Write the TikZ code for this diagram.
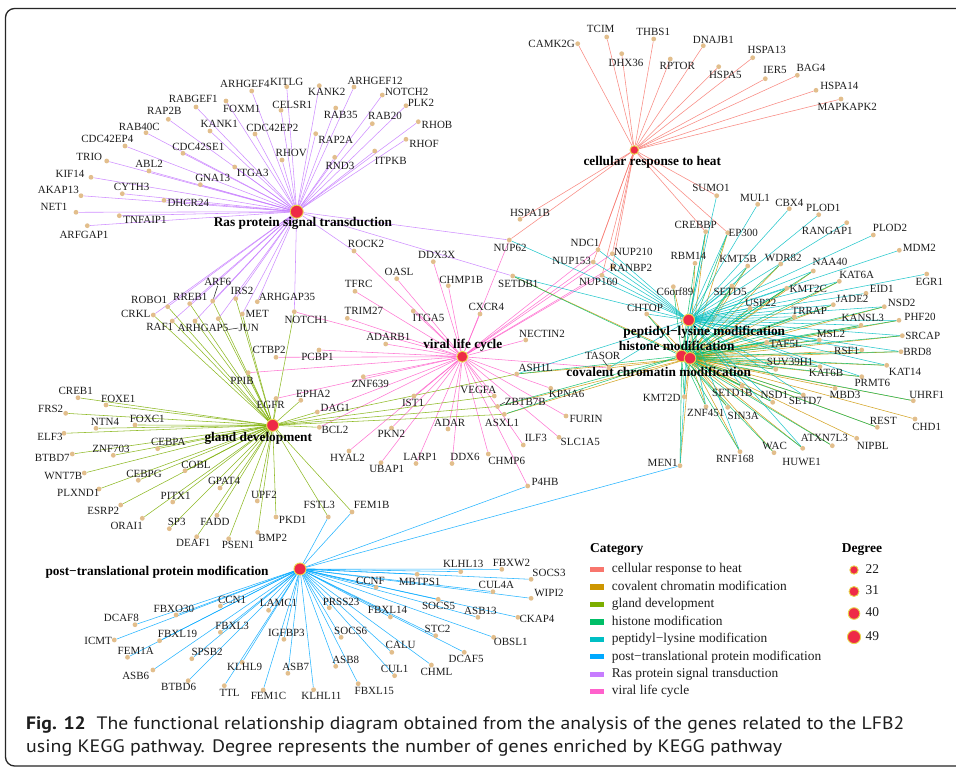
\documentclass[tikz,border=0pt]{standalone}
\usepackage{fontspec}
\setmainfont{Liberation Serif}
\newfontfamily\capfont{PT Sans}
\usepackage{graphicx}
\definecolor{cheat}{HTML}{F8766D}
\definecolor{ccov}{HTML}{CD9600}
\definecolor{cgland}{HTML}{7CAE00}
\definecolor{chis}{HTML}{00BE67}
\definecolor{cpep}{HTML}{00BFC4}
\definecolor{cptm}{HTML}{00A9FF}
\definecolor{cras}{HTML}{C77CFF}
\definecolor{cvir}{HTML}{FF61CC}
\definecolor{hubred}{HTML}{EE2A47}
\definecolor{hubrim}{HTML}{E8D44A}
\definecolor{genedot}{HTML}{E2BE8C}
\definecolor{txt}{HTML}{1E1E1E}
\pgfdeclarelayer{bg}
\pgfdeclarelayer{edges}
\pgfsetlayers{bg,edges,main}
\newcommand\gene[5]{\node[gdot] (#1) at (#2,#3) {};\node[glab] (#1-l) at (#4,#5) {#1};}
\tikzset{
  gdot/.style={circle, fill=genedot, inner sep=0pt, minimum size=4.8pt},
  glab/.style={anchor=center, inner sep=0pt, text=txt, font=\fontsize{11}{12}\selectfont, text height=7.3pt, text depth=0pt},
  hub/.style={circle, fill=hubred, draw=hubrim, line width=0.9pt, inner sep=0pt},
  hlab/.style={anchor=center, inner sep=0pt, text=black, font=\bfseries\fontsize{13.3}{15}\selectfont, text height=8.8pt, text depth=0pt},
  ed/.style={line width=0.55pt, opacity=0.85},
  eheat/.style={ed, draw=cheat}, ecov/.style={ed, draw=ccov}, egland/.style={ed, draw=cgland},
  ehis/.style={ed, draw=chis}, epep/.style={ed, draw=cpep}, eptm/.style={ed, draw=cptm},
  eras/.style={ed, draw=cras}, evir/.style={ed, draw=cvir},
  leader/.style={line width=0.5pt, draw=txt},
  legtxt/.style={anchor=west, inner sep=0pt, text=txt, font=\fontsize{13.4}{15}\selectfont, text height=6.5pt, text depth=0pt},
  leghead/.style={anchor=west, inner sep=0pt, text=black, font=\bfseries\fontsize{13.5}{15}\selectfont, text height=6.5pt, text depth=0pt},
  swatch/.style={inner sep=0pt, minimum width=14pt, minimum height=5.4pt},
}
\begin{document}
\begin{tikzpicture}[x=1pt,y=-1pt]
\useasboundingbox (0,0) rectangle (956,770);
\begin{pgfonlayer}{bg}
\fill[white] (0,0) rectangle (956,770);
\end{pgfonlayer}
\begin{scope}
\clip (0,0) rectangle (956,770);
\draw[line width=1.3pt, draw=black!85, rounded corners=9pt] (5.5,8.5) rectangle (1000,766);
\end{scope}

% ---------- Ras cluster genes
\gene{ARHGEF4}{251.7}{91}{245}{84}
\gene{KITLG}{286.7}{86.7}{286.7}{81.7}
\gene{KANK2}{319.3}{85.7}{326.7}{91.7}
\gene{ARHGEF12}{354}{87}{375}{81}
\gene{NOTCH2}{382.3}{95}{406.7}{92.3}
\gene{PLK2}{406}{105.7}{421}{103}
\gene{RHOB}{418.3}{121.7}{437}{125}
\gene{RHOF}{406}{139.3}{424}{144}
\gene{FOXM1}{226}{101}{241.7}{109.3}
\gene{RABGEF1}{196}{107}{193.3}{99}
\gene{RAP2B}{168.3}{119.3}{164.3}{110.7}
\gene{RAB40C}{146}{132.7}{139.3}{126.7}
\gene{CDC42EP4}{125}{146}{107.3}{139}
\gene{TRIO}{106.7}{161}{89.3}{157.3}
\gene{KIF14}{91}{177.3}{70}{174}
\gene{AKAP13}{81}{195.7}{58.3}{190}
\gene{NET1}{76}{212.3}{54}{207}
\gene{ARFGAP1}{87.3}{225.7}{84}{235}
\gene{KANK1}{210}{131}{219.3}{124.3}
\gene{CDC42SE1}{183}{153.3}{198.3}{147.3}
\gene{ABL2}{149}{171}{149}{164.3}
\gene{CYTH3}{122.3}{193.7}{131.7}{186.7}
\gene{TNFAIP1}{119.3}{215.7}{145}{220.3}
\gene{DHCR24}{164}{200.3}{188.3}{203.3}
\gene{GNA13}{200.3}{184.7}{212.7}{178}
\gene{ITGA3}{234.7}{167}{252.7}{172.7}
\gene{CDC42EP2}{255}{134}{272.3}{128}
\gene{CELSR1}{281}{110.3}{292.3}{105}
\gene{RHOV}{282}{160}{291.3}{153.3}
\gene{RAB35}{335.7}{108}{340.7}{115}
\gene{RAP2A}{315.7}{133.7}{335.7}{140}
\gene{RND3}{334.7}{157.3}{340}{166}
\gene{RAB20}{372.3}{123.7}{385}{116}
\gene{ITPKB}{374.7}{151}{390.7}{161}

% ---------- heat cluster genes
\gene{CAMK2G}{577.7}{43.7}{551.7}{44.3}
\gene{TCIM}{606.7}{37}{600.7}{28.7}
\gene{THBS1}{653.7}{39}{653.3}{32.3}
\gene{DHX36}{621.7}{53.7}{626}{62.7}
\gene{RPTOR}{670.3}{59}{677.3}{65.7}
\gene{DNAJB1}{703.3}{45.7}{713.3}{40}
\gene{HSPA5}{718.7}{66.7}{725.3}{75.3}
\gene{HSPA13}{752.7}{57.7}{766.7}{50.3}
\gene{IER5}{765.3}{78.7}{775}{70}
\gene{BAG4}{797.3}{75.3}{811}{68.3}
\gene{HSPA14}{816}{90.3}{839.3}{85.7}
\gene{MAPKAPK2}{841}{99}{847.3}{107.3}
\gene{HSPA1B}{520}{219.3}{530}{213.3}
\gene{NUP62}{509.3}{240}{510}{248.3}

% ---------- right (chromatin) cluster genes
\gene{SUMO1}{716.7}{195.7}{711}{187.7}
\gene{MUL1}{757.7}{204.3}{755}{198.3}
\gene{CBX4}{789.3}{208.7}{789.3}{202.7}
\gene{PLOD1}{818.7}{214.7}{823.3}{207.7}
\gene{CREBBP}{705.7}{231.7}{695.7}{225}
\gene{EP300}{727.7}{232.7}{743.3}{233.3}
\gene{RANGAP1}{846.7}{222.7}{827.3}{230.7}
\gene{PLOD2}{873.3}{235}{890}{228.3}
\gene{MDM2}{899.3}{250.3}{919.3}{248.3}
\gene{NDC1}{598}{249.7}{585}{242.7}
\gene{NUP210}{612.3}{253.7}{633.3}{252.3}
\gene{NUP153}{593.3}{262}{571.7}{261}
\gene{RANBP2}{612.3}{267}{631}{268.3}
\gene{NUP160}{602}{275.3}{598.3}{282}
\gene{RBM14}{695}{263.3}{688.3}{255.7}
\gene{KMT5B}{747.7}{266}{738}{259}
\gene{SETD5}{732}{286}{730}{291.7}
\gene{WDR82}{780.7}{264}{783.3}{258.3}
\gene{NAA40}{813.3}{271}{830}{262.3}
\gene{EGR1}{926.7}{274}{929.3}{282.3}
\gene{KAT6A}{839.3}{281.3}{856.7}{275}
\gene{C6orf89}{673.3}{286.7}{675}{292.3}
\gene{KMT2C}{786.7}{288.3}{808.3}{289}
\gene{EID1}{866}{293.3}{881.7}{288.7}
\gene{USP22}{750}{308.3}{760.7}{302.7}
\gene{JADE2}{833.3}{304.7}{852.3}{298.7}
\gene{NSD2}{884.3}{306.7}{901.7}{302.7}
\gene{CHTOP}{646.7}{314}{645}{307.7}
\gene{TRRAP}{794.3}{316.7}{809.3}{310.7}
\gene{KANSL3}{861}{325.3}{862.7}{318.3}
\gene{PHF20}{899}{320.3}{920}{316.7}
\gene{MSL2}{819.3}{340}{831}{334}
\gene{SRCAP}{902.3}{335.7}{922.7}{335.7}
\gene{TAF5L}{766.7}{342.3}{785.7}{344.3}
\gene{RSF1}{861.7}{350}{846.7}{350.7}
\gene{BRD8}{901}{351.7}{917.3}{352.3}
\gene{SUV39H1}{775.7}{369.3}{790}{362.3}
\gene{KAT6B}{820}{366.7}{826}{373.3}
\gene{KAT14}{886.7}{365.3}{905}{371.7}
\gene{PRMT6}{861.7}{376.7}{872.3}{383.3}
\gene{MBD3}{835}{388.3}{845}{395}
\gene{UHRF1}{913.3}{400.7}{926.7}{395}
\gene{SETD1B}{742}{386}{732.3}{392.7}
\gene{NSD1}{772.7}{402.3}{774.3}{395}
\gene{SETD7}{803.3}{395}{805.3}{401}
\gene{KMT2D}{684.3}{396.7}{661.7}{398.3}
\gene{ZNF451}{706}{406.7}{705.7}{413.3}
\gene{SIN3A}{727.7}{407.3}{743.3}{415.7}
\gene{REST}{877.3}{427.3}{883.3}{420.7}
\gene{CHD1}{915}{419}{926.7}{426.7}
\gene{ATXN7L3}{832.3}{445.7}{824.3}{438.3}
\gene{NIPBL}{856.7}{438.3}{872.7}{445.7}
\gene{WAC}{774}{452.7}{774.7}{445.7}
\gene{HUWE1}{802.7}{448.3}{801.7}{461.7}
\gene{RNF168}{740}{451.7}{735}{459.3}
\gene{MEN1}{680}{465.7}{662.7}{463.3}
\gene{TASOR}{609}{368}{602.7}{355.7}
\gene{SETDB1}{512.7}{276}{518.3}{284.3}
\gene{ASH1L}{516.7}{374}{535.7}{367.7}

% ---------- middle (viral / Ras / gland) genes
\gene{ROCK2}{354}{251}{366}{244.3}
\gene{DDX3X}{433.3}{261.7}{436.7}{255}
\gene{OASL}{396.7}{278.7}{399}{271.7}
\gene{TFRC}{355}{291.3}{358.7}{284.3}
\gene{CHMP1B}{448.3}{285.7}{461.3}{280}
\gene{ARF6}{212.7}{301}{217.7}{282}
\gene{IRS2}{235.7}{298.7}{242}{290.7}
\gene{ARHGAP35}{257.3}{301.7}{287}{297.3}
\gene{ROBO1}{167.7}{306.7}{149.2}{300}
\gene{RREB1}{189.7}{303.7}{190.3}{297.3}
\gene{CRKL}{153.3}{315}{135.8}{314.3}
\gene{NOTCH1}{294.3}{311.7}{306.2}{320}
\gene{MET}{242.3}{314}{257.3}{314}
\gene{RAF1}{172.3}{321}{159.7}{327.3}
\gene{ARHGAP5}{195}{321}{203}{328.3}
\gene{JUN}{218.3}{318.7}{248.7}{328}
\gene{CXCR4}{480}{314}{486.3}{306.7}
\gene{ITGA5}{413.3}{311}{428.5}{318.3}
\gene{TRIM27}{347.3}{318.3}{363.8}{311.3}
\gene{NECTIN2}{525.7}{340}{542}{334}
\gene{ADARB1}{385.7}{344}{388.3}{337.3}
\gene{CTBP2}{276}{357.3}{269.2}{350}
\gene{PCBP1}{319}{350}{317.5}{357}
\gene{PPIB}{248.3}{372.7}{242}{380.7}
\gene{ZNF639}{363.3}{376.7}{370.3}{384}
\gene{EGFR}{276}{398.5}{270.7}{404.7}
\gene{EPHA2}{300.8}{400.3}{313.3}{394}
\gene{DAG1}{317.3}{412}{335.3}{408}
\gene{BCL2}{319.3}{427.3}{335}{430}
\gene{IST1}{414}{396}{413}{402.7}
\gene{PKN2}{391.5}{428}{391.3}{434.3}
\gene{ADAR}{448}{429}{449.7}{422.7}
\gene{HYAL2}{349}{451}{347.5}{457.7}
\gene{UBAP1}{381}{462.7}{386.7}{469}
\gene{LARP1}{416}{463.5}{420.3}{456.7}
\gene{DDX6}{452}{463.5}{465}{456.7}
\gene{VEGFA}{494.3}{396}{478.3}{390}
\gene{ZBTB7B}{497.5}{406.5}{525.3}{402.3}
\gene{ASXL1}{504.3}{414.3}{502}{423.3}
\gene{KPNA6}{550.7}{388.3}{566.7}{394.3}
\gene{FURIN}{566}{416}{586}{419.3}
\gene{ILF3}{523.3}{445}{535.8}{438.3}
\gene{SLC1A5}{559}{437.3}{580.3}{441.7}
\gene{CHMP6}{488.3}{454}{506.7}{461}
\gene{P4HB}{527.7}{486}{545}{481.7}

% ---------- gland cluster genes
\gene{CREB1}{78}{397.7}{75.7}{391}
\gene{FOXE1}{106}{405}{118.3}{398.7}
\gene{FRS2}{65.7}{413.3}{50.7}{409.3}
\gene{NTN4}{96}{428.3}{105}{422}
\gene{FOXC1}{135}{425}{147.3}{419.3}
\gene{ELF3}{64}{433.3}{50}{436.7}
\gene{BTBD7}{72.3}{454}{52.3}{457.7}
\gene{ZNF703}{113.3}{455.3}{111}{449}
\gene{CEBPA}{157.7}{448.7}{168.3}{442.3}
\gene{WNT7B}{84.3}{473}{63.3}{475.7}
\gene{CEBPG}{138.3}{480.3}{144}{474.3}
\gene{COBL}{185}{470.7}{196}{465}
\gene{PLXND1}{99}{489}{78.3}{492.7}
\gene{GPAT4}{220}{488}{224}{481.3}
\gene{PITX1}{172.7}{502}{175.7}{495.7}
\gene{UPF2}{257.3}{501}{264}{494.7}
\gene{ESRP2}{120.7}{505}{103.3}{511}
\gene{FSTL3}{328.3}{517}{319.3}{505.3}
\gene{FEM1B}{352}{512}{371.7}{504.7}
\gene{PKD1}{276}{517}{292.7}{520}
\gene{ORAI1}{142.3}{518.3}{126.7}{525.7}
\gene{SP3}{169.3}{528.7}{176.7}{522.3}
\gene{FADD}{217}{515.3}{215}{522.3}
\gene{DEAF1}{196.7}{536.7}{193.3}{543.3}
\gene{PSEN1}{228.7}{538.7}{238}{544.7}
\gene{BMP2}{257.7}{532.3}{272.7}{538.3}

% ---------- PTM cluster genes
\gene{KLHL13}{460.7}{571.7}{463.2}{564.3}
\gene{FBXW2}{501.8}{569.3}{511.4}{563}
\gene{SOCS3}{531.1}{579.3}{549}{573}
\gene{MBTPS1}{417.1}{574.3}{419.6}{581.7}
\gene{CCNF}{376.1}{587.3}{370.4}{580.7}
\gene{CUL4A}{492.9}{591.7}{496.4}{585}
\gene{WIPI2}{531.1}{598.3}{549}{592.7}
\gene{SOCS5}{438.2}{599.3}{438.6}{606}
\gene{ASB13}{477.9}{617.3}{480.4}{611}
\gene{CKAP4}{517.9}{617.3}{537}{619.3}
\gene{FBXL14}{390.4}{617}{387.5}{610}
\gene{PRSS23}{329.3}{607.7}{341.1}{601.7}
\gene{STC2}{435.7}{635.7}{437.5}{629}
\gene{OBSL1}{493.6}{637.3}{510.7}{641.7}
\gene{LAMC1}{268.6}{610.3}{278.6}{603}
\gene{CCN1}{220.4}{606}{232.1}{600}
\gene{FBXO30}{176.1}{615}{173.9}{609}
\gene{DCAF8}{135}{624.7}{121.4}{618.3}
\gene{FBXL3}{220.4}{632.3}{232.1}{626}
\gene{IGFBP3}{283.9}{639.3}{286.4}{633.3}
\gene{SOCS6}{341.1}{637.3}{350.7}{630.7}
\gene{FBXL19}{159.6}{640.7}{177.5}{634.3}
\gene{ICMT}{114.3}{640}{98.2}{640.7}
\gene{FEM1A}{127.5}{657.3}{135.7}{650.7}
\gene{CALU}{391.8}{652.3}{400.7}{645.3}
\gene{DCAF5}{464.3}{652.3}{466.1}{658.7}
\gene{SPSB2}{191.8}{658.7}{207.1}{652.3}
\gene{ASB8}{335.7}{666.3}{345.7}{659.7}
\gene{KLHL9}{242.1}{662.3}{244.6}{667.3}
\gene{ASB7}{287.9}{673.3}{295.7}{667}
\gene{ASB6}{152.9}{670}{135.7}{675.7}
\gene{CUL1}{394.6}{675.7}{394.6}{669.3}
\gene{CHML}{431.4}{665}{436.4}{671.7}
\gene{BTBD6}{188.2}{680.7}{178.6}{686.7}
\gene{FBXL15}{358.2}{683.7}{374.3}{690.7}
\gene{TTL}{224.3}{685.7}{229.6}{693.3}
\gene{FEM1C}{263.2}{690}{268.6}{696}
\gene{KLHL11}{313.6}{689.7}{321.4}{696}

% ---------- hubs
\node[hub, minimum size=13pt] (ras) at (296.7,211.7) {};
\node[hub, minimum size=8.6pt] (heat) at (634.3,150) {};
\node[hub, minimum size=11pt] (viral) at (462.3,356.7) {};
\node[hub, minimum size=12pt] (gland) at (272.7,425.3) {};
\node[hub, minimum size=12pt] (ptm) at (300,569) {};
\node[hub, minimum size=11.6pt] (pep) at (688.7,320) {};
\node[hub, minimum size=11.6pt] (his) at (681.7,356) {};
\node[hub, minimum size=11.6pt] (cov) at (690,358.3) {};

\node[hlab] (ras-l) at (303,221.7) {Ras protein signal transduction};
\node[hlab] (heat-l) at (652.3,160.7) {cellular response to heat};
\node[hlab] (viral-l) at (462.8,344.3) {viral life cycle};
\node[hlab] (gland-l) at (258.3,436.7) {gland development};
\node[hlab] (ptm-l) at (157.1,571) {post−translational protein modification};
\node[hlab] (pep-l) at (704.3,330.7) {peptidyl−lysine modification};
\node[hlab] (his-l) at (676.7,345.7) {histone modification};
\node[hlab] (cov-l) at (658.7,371.7) {covalent chromatin modification};

% ---------- leaders
\coordinate (junlead) at (228.3,329.5);
\draw[leader] (ARF6-l.south) -- (ARF6);
\draw[leader] (JUN-l.west) -- (junlead);
\draw[leader] (TASOR-l.south) -- (TASOR);
\draw[leader] (ZBTB7B-l.west) -- (ZBTB7B);

% ---------- edges
\begin{pgfonlayer}{edges}
\foreach \g in {ARHGEF4,KITLG,KANK2,ARHGEF12,NOTCH2,PLK2,RHOB,RHOF,FOXM1,RABGEF1,RAP2B,RAB40C,CDC42EP4,TRIO,KIF14,AKAP13,NET1,ARFGAP1,KANK1,CDC42SE1,ABL2,CYTH3,TNFAIP1,DHCR24,GNA13,ITGA3,CDC42EP2,CELSR1,RHOV,RAB35,RAP2A,RND3,RAB20,ITPKB,ROCK2,NUP62,SETDB1,ROBO1,CRKL,RREB1,RAF1,ARF6,ARHGAP5,IRS2,JUN,MET,ARHGAP35,NOTCH1}
  \draw[eras] (ras) -- (\g);
\foreach \g in {CAMK2G,TCIM,THBS1,DHX36,RPTOR,DNAJB1,HSPA5,HSPA13,IER5,BAG4,HSPA14,MAPKAPK2,SUMO1,CREBBP,EP300,HSPA1B,NUP62,NDC1,NUP153,NUP210,RANBP2,NUP160}
  \draw[eheat] (heat) -- (\g);
\foreach \g in {ROCK2,DDX3X,OASL,TFRC,CHMP1B,ITGA5,TRIM27,CXCR4,ADARB1,NOTCH1,PCBP1,CTBP2,PPIB,ZNF639,EGFR,DAG1,BCL2,IST1,PKN2,HYAL2,UBAP1,LARP1,DDX6,ADAR,VEGFA,ILF3,CHMP6,P4HB,SLC1A5,FURIN,KPNA6,NECTIN2,NUP62,NDC1,NUP153,NUP210,RANBP2,NUP160,TASOR}
  \draw[evir] (viral) -- (\g);
\foreach \g in {PPIB,EGFR,EPHA2,DAG1,BCL2,CREB1,FOXE1,FRS2,NTN4,FOXC1,ELF3,BTBD7,ZNF703,CEBPA,WNT7B,CEBPG,COBL,PLXND1,ESRP2,PITX1,GPAT4,ORAI1,SP3,FADD,DEAF1,PSEN1,UPF2,BMP2,PKD1,FSTL3,FEM1B,ROBO1,CRKL,RREB1,RAF1,ARF6,ARHGAP5,IRS2,JUN,MET,NOTCH1,VEGFA,ASH1L,ZBTB7B,ASXL1}
  \draw[egland] (gland) -- (\g);
\foreach \g in {KLHL13,FBXW2,SOCS3,MBTPS1,CCNF,CUL4A,WIPI2,SOCS5,ASB13,CKAP4,FBXL14,PRSS23,STC2,OBSL1,LAMC1,CCN1,FBXO30,DCAF8,FBXL3,IGFBP3,SOCS6,FBXL19,ICMT,FEM1A,CALU,DCAF5,SPSB2,ASB8,KLHL9,ASB7,ASB6,CUL1,CHML,BTBD6,FBXL15,TTL,FEM1C,KLHL11,FSTL3,FEM1B,P4HB,MEN1}
  \draw[eptm] (ptm) -- (\g);
\foreach \g in {CREBBP,EP300,RBM14,KMT5B,WDR82,NAA40,KAT6A,KMT2C,JADE2,USP22,TRRAP,KANSL3,PHF20,NSD2,MSL2,SRCAP,TAF5L,BRD8,SUV39H1,KAT6B,KAT14,PRMT6,SETD1B,NSD1,SETD7,KMT2D,ZNF451,SIN3A,REST,UHRF1,ATXN7L3,WAC,HUWE1,RNF168,MEN1,SETD5,C6orf89,CHTOP,SETDB1,ASH1L,ASXL1,ZBTB7B,MBD3,CHD1,NIPBL,RSF1,TASOR}
  \draw[ecov] (cov) -- (\g);
\foreach \g in {CREBBP,EP300,RBM14,KMT5B,WDR82,NAA40,KAT6A,KMT2C,JADE2,USP22,TRRAP,KANSL3,PHF20,NSD2,MSL2,SRCAP,TAF5L,BRD8,SUV39H1,KAT6B,KAT14,PRMT6,SETD1B,NSD1,SETD7,KMT2D,ZNF451,SIN3A,REST,UHRF1,ATXN7L3,WAC,HUWE1,RNF168,MEN1,SETD5,C6orf89,CHTOP,SETDB1,ASH1L,ASXL1,ZBTB7B}
  \draw[ehis] (his) -- (\g);
\foreach \g in {SUMO1,MUL1,CBX4,PLOD1,RANGAP1,PLOD2,MDM2,EGR1,EID1,NDC1,NUP153,NUP210,RANBP2,NUP160,NUP62,SETDB1,CREBBP,EP300,KMT5B,NAA40,KAT6A,KMT2C,NSD2,SETD7,NSD1,KAT6B,KAT14,MSL2,PRMT6,SUV39H1,SETD1B,KMT2D,ZNF451,HUWE1,MEN1,SETD5,ASH1L,USP22,JADE2,BRD8,SRCAP,RSF1,TASOR,CHTOP,PHF20,KANSL3,RNF168,TRRAP}
  \draw[epep] (pep) -- (\g);
\end{pgfonlayer}

% ---------- legend
\node[leghead] (cathead) at (590,549.3) {Category};
\foreach \c/\t [count=\i from 0] in {cheat/cellular response to heat, ccov/covalent chromatin modification, cgland/gland development, chis/histone modification, cpep/peptidyl−lysine modification, cptm/post−translational protein modification, cras/Ras protein signal transduction, cvir/viral life cycle}{
  \node[swatch, fill=\c] (sw\i) at (596.5,569.5+17.45*\i) {};
  \node[legtxt] (lt\i) at (611.7,569.5+17.45*\i) {\t};
}
\node[leghead] (deghead) at (841.7,549.3) {Degree};
\foreach \d/\yy/\s [count=\i] in {22/570/8.4, 31/591.5/10, 40/613.5/11.6, 49/637/13.2}{
  \node[hub, minimum size=\s pt] (dd\i) at (854,\yy) {};
  \node[legtxt] (dt\i) at (865.5,\yy) {\d};
}

% ---------- caption
\node[anchor=base west, inner sep=0pt, text=txt] (cap1) at (26,729) {\resizebox{878pt}{\height}{\capfont\fontsize{18}{20}\selectfont\textbf{Fig. 12}\hspace{0.55em}The functional relationship diagram obtained from the analysis of the genes related to the LFB2}};
\node[anchor=base west, inner sep=0pt, text=txt] (cap2) at (26,752) {\resizebox{756pt}{\height}{\capfont\fontsize{18}{20}\selectfont using KEGG pathway. Degree represents the number of genes enriched by KEGG pathway}};
\end{tikzpicture}
\end{document}
